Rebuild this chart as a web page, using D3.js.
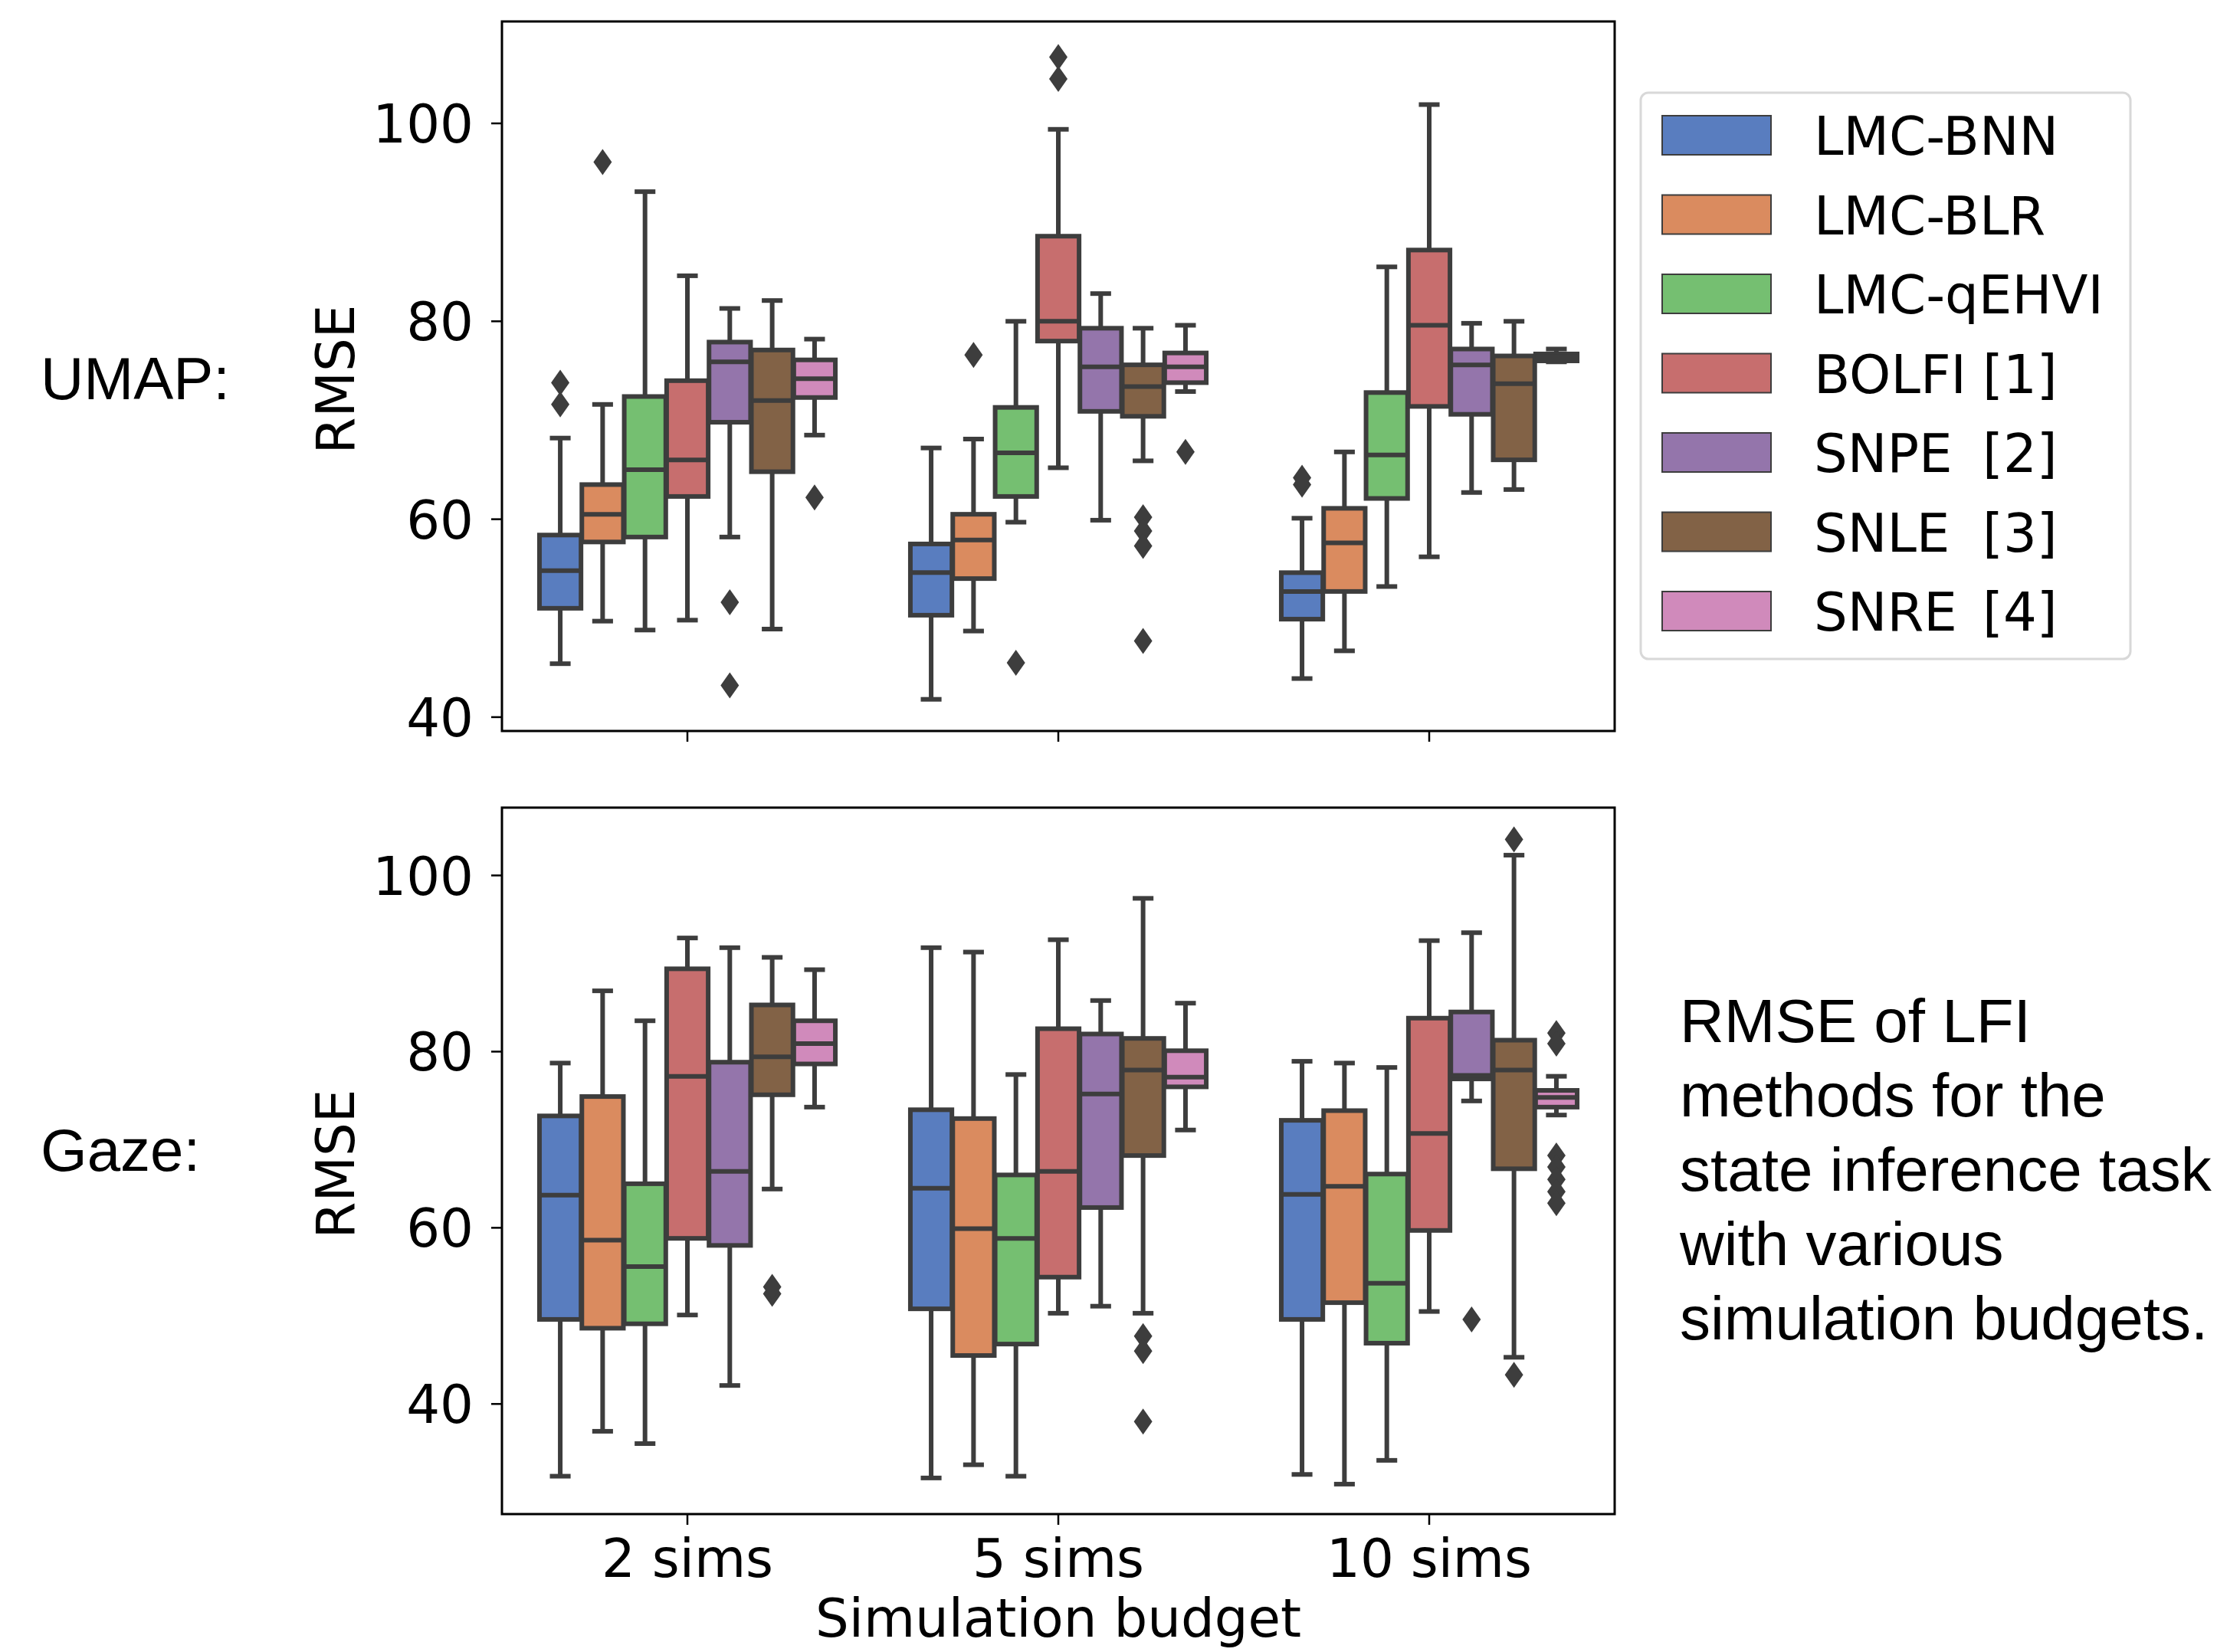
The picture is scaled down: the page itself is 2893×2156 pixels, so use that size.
<!DOCTYPE html>
<html>
<head>
<meta charset="utf-8">
<script src="https://cdn.jsdelivr.net/npm/d3@7"></script>
<style>
  html, body { margin: 0; padding: 0; background: #fff; }
</style>
</head>
<body>
<div id="chart"></div>
<script>
// Boxplots RMSE groupés (seaborn-like) : 2 panneaux UMAP / Gaze, 7 méthodes par budget.

const budgets = ["2 sims", "5 sims", "10 sims"]
const methods = ["LMC-BNN", "LMC-BLR", "LMC-qEHVI", "BOLFI [1]", "SNPE [2]", "SNLE [3]", "SNRE [4]"]
const yTicks = [40, 60, 80, 100]

// Stats par budget puis par méthode : [whisker bas, Q1, médiane, Q3, whisker haut]
const umapStats = [
  [[45.4, 51.0, 54.8, 58.4, 68.2], [49.7, 57.7, 60.5, 63.5, 71.6], [48.8, 58.2, 65.0, 72.4, 93.1],
   [49.8, 62.3, 66.0, 74.0, 84.6], [58.2, 69.8, 75.9, 77.9, 81.3], [48.9, 64.8, 72.0, 77.1, 82.1],
   [68.5, 72.3, 74.2, 76.1, 78.2]],
  [[41.8, 50.3, 54.6, 57.5, 67.2], [48.7, 54.0, 57.9, 60.5, 68.1], [59.7, 62.3, 66.7, 71.3, 80.0],
   [65.2, 78.0, 80.0, 88.6, 99.4], [59.9, 70.9, 75.4, 79.3, 82.8], [65.9, 70.4, 73.4, 75.6, 79.3],
   [72.9, 73.8, 75.4, 76.8, 79.6]],
  [[43.9, 49.9, 52.7, 54.6, 60.1], [46.7, 52.7, 57.6, 61.1, 66.8], [53.2, 62.1, 66.5, 72.8, 85.5],
   [56.2, 71.4, 79.6, 87.2, 101.9], [62.7, 70.6, 75.6, 77.2, 79.8], [63.0, 66.0, 73.7, 76.5, 80.0],
   [75.9, 76.0, 76.4, 76.7, 77.2]],
]
const umapOutliers = [
  [[71.6, 73.8], [96.1], [], [], [51.6, 43.2], [], [62.2]],
  [[], [76.6], [45.5], [104.5, 106.7], [], [60.2, 58.8, 57.3, 47.7], [66.8]],
  [[63.5, 64.2], [], [], [], [], [], []],
]

const gazeStats = [
  [[31.8, 49.6, 63.7, 72.7, 78.7], [36.9, 48.6, 58.6, 74.9, 86.9], [35.5, 49.1, 55.6, 65.0, 83.5],
   [50.1, 58.8, 77.2, 89.4, 92.9], [42.1, 58.0, 66.4, 78.8, 91.8], [64.4, 75.1, 79.4, 85.3, 90.7],
   [73.7, 78.6, 80.9, 83.5, 89.3]],
  [[31.6, 50.8, 64.5, 73.4, 91.8], [33.1, 45.5, 59.9, 72.4, 91.3], [31.8, 46.8, 58.8, 66.0, 77.4],
   [50.3, 54.4, 66.4, 82.6, 92.7], [51.1, 62.3, 75.2, 82.0, 85.8], [50.3, 68.2, 77.9, 81.5, 97.4],
   [71.1, 76.0, 77.1, 80.1, 85.5]],
  [[32.0, 49.6, 63.8, 72.2, 78.9], [30.9, 51.5, 64.7, 73.3, 78.7], [33.6, 46.9, 53.7, 66.1, 78.2],
   [50.5, 59.7, 70.7, 83.8, 92.6], [74.4, 76.9, 77.3, 84.5, 93.5], [45.3, 66.7, 77.9, 81.3, 102.3],
   [72.8, 73.7, 74.8, 75.6, 77.2]],
]
const gazeOutliers = [
  [[], [], [], [], [], [52.5, 53.3], []],
  [[], [], [], [], [], [47.7, 46.0, 38.0], []],
  [[], [], [], [], [49.6], [104.1, 43.3], [82.1, 80.9, 68.2, 66.9, 65.5, 64.1, 62.8]],
]

const captionLines = ["RMSE of LFI", "methods for the", "state inference task", "with various", "simulation budgets."]

// palette "muted" désaturée à 0.75 comme le fait seaborn pour les boîtes
const muted = ["#4878d0", "#ee854a", "#6acc64", "#d65f5f", "#956cb4", "#8c613c", "#dc7ec0"]
const colors = muted.map((c) => { const h = d3.hsl(c); h.s *= 0.75; return h.formatHex() })
const gray = "#3d3d3d"
const LW = 6

const W = 2893, H = 2156
const plotL = 655, plotR = 2107
const panels = [
  { name: "UMAP:", stats: umapStats, outliers: umapOutliers, top: 28, bottom: 954, domain: [38.6, 110.3], labelY: 521, xLabels: false },
  { name: "Gaze:", stats: gazeStats, outliers: gazeOutliers, top: 1054, bottom: 1976, domain: [27.5, 107.7], labelY: 1528, xLabels: true },
]

const svg = d3.select("#chart").append("svg")
  .attr("width", W).attr("height", H)
  .attr("viewBox", `0 0 ${W} ${H}`)
  .style("background", "#fff")

const x0 = d3.scaleBand().domain(budgets).range([plotL, plotR]).padding(0)
const hue = d3.scaleBand().domain(methods).range([0, x0.bandwidth() * 0.8])
const boxW = hue.bandwidth() * 0.98
const capW = boxW / 2
const axisFont = "DejaVu Sans, sans-serif"

// diamant fin (marker "d" de matplotlib)
const diamond = (cx, cy) => `M${cx},${cy - 17}L${cx + 12},${cy}L${cx},${cy + 17}L${cx - 12},${cy}Z`

panels.forEach((p) => {
  const y = d3.scaleLinear().domain(p.domain).range([p.bottom, p.top])
  const g = svg.append("g")

  // ticks Y + labels
  g.selectAll("line.ytick").data(yTicks).join("line")
    .attr("x1", plotL - 14).attr("x2", plotL)
    .attr("y1", (d) => y(d)).attr("y2", (d) => y(d))
    .attr("stroke", "#000").attr("stroke-width", 2.5)
  g.selectAll("text.ylab").data(yTicks).join("text")
    .attr("x", plotL - 37).attr("y", (d) => y(d) + 25)
    .attr("text-anchor", "end")
    .attr("font-family", axisFont).attr("font-size", 69).attr("fill", "#000")
    .text((d) => d)

  // ticks X
  g.selectAll("line.xtick").data(budgets).join("line")
    .attr("x1", (d) => x0(d) + x0.bandwidth() / 2).attr("x2", (d) => x0(d) + x0.bandwidth() / 2)
    .attr("y1", p.bottom).attr("y2", p.bottom + 14)
    .attr("stroke", "#000").attr("stroke-width", 2.5)
  if (p.xLabels) {
    g.selectAll("text.xlab").data(budgets).join("text")
      .attr("x", (d) => x0(d) + x0.bandwidth() / 2).attr("y", p.bottom + 82)
      .attr("text-anchor", "middle")
      .attr("font-family", axisFont).attr("font-size", 69).attr("fill", "#000")
      .text((d) => d)
  }

  // label axe Y
  const cy = (p.top + p.bottom) / 2
  g.append("text")
    .attr("transform", `translate(462,${cy + 4}) rotate(-90)`)
    .attr("text-anchor", "middle")
    .attr("font-family", axisFont).attr("font-size", 69).attr("fill", "#000")
    .text("RMSE")

  // nom du panneau
  g.append("text")
    .attr("x", 53).attr("y", p.labelY)
    .attr("font-family", "Liberation Sans, Arial, sans-serif").attr("font-size", 78).attr("fill", "#000")
    .text(p.name)

  // boîtes
  budgets.forEach((b, bi) => {
    methods.forEach((m, mi) => {
      const [wl, q1, med, q3, wh] = p.stats[bi][mi]
      const cx = x0(b) + x0.bandwidth() * 0.1 + hue(m) + hue.bandwidth() / 2
      const bx = g.append("g")
      bx.append("line").attr("x1", cx).attr("x2", cx).attr("y1", y(q3)).attr("y2", y(wh))
        .attr("stroke", gray).attr("stroke-width", LW)
      bx.append("line").attr("x1", cx).attr("x2", cx).attr("y1", y(q1)).attr("y2", y(wl))
        .attr("stroke", gray).attr("stroke-width", LW)
      ;[wl, wh].forEach((v) => {
        bx.append("line").attr("x1", cx - capW / 2).attr("x2", cx + capW / 2)
          .attr("y1", y(v)).attr("y2", y(v))
          .attr("stroke", gray).attr("stroke-width", LW)
      })
      bx.append("rect")
        .attr("x", cx - boxW / 2).attr("width", boxW)
        .attr("y", y(q3)).attr("height", y(q1) - y(q3))
        .attr("fill", colors[mi]).attr("stroke", gray).attr("stroke-width", LW)
      bx.append("line").attr("x1", cx - boxW / 2).attr("x2", cx + boxW / 2)
        .attr("y1", y(med)).attr("y2", y(med))
        .attr("stroke", gray).attr("stroke-width", LW)
      bx.selectAll("path.flier").data(p.outliers[bi][mi]).join("path")
        .attr("d", (v) => diamond(cx, y(v)))
        .attr("fill", gray)
    })
  })

  // cadre
  g.append("rect")
    .attr("x", plotL).attr("y", p.top)
    .attr("width", plotR - plotL).attr("height", p.bottom - p.top)
    .attr("fill", "none").attr("stroke", "#000").attr("stroke-width", 3)
})

// titre axe X (remonté un peu pour que le "g" ne soit pas coupé)
svg.append("text")
  .attr("x", (plotL + plotR) / 2).attr("y", 2136)
  .attr("text-anchor", "middle")
  .attr("font-family", axisFont).attr("font-size", 69).attr("fill", "#000")
  .text("Simulation budget")

// légende
const leg = svg.append("g")
leg.append("rect")
  .attr("x", 2141).attr("y", 121).attr("width", 639).attr("height", 739)
  .attr("rx", 10).attr("fill", "#fff").attr("stroke", "#d8d8d8").attr("stroke-width", 3)
methods.forEach((m, i) => {
  const yy = 151 + i * 103.5
  leg.append("rect")
    .attr("x", 2169).attr("y", yy).attr("width", 142).attr("height", 51)
    .attr("fill", colors[i]).attr("stroke", gray).attr("stroke-width", 2)
  const [name, ref] = m.split(" ")
  const t = leg.append("text")
    .attr("y", yy + 51)
    .attr("font-family", axisFont).attr("font-size", 69).attr("fill", "#000")
  t.append("tspan").attr("x", 2367).text(name)
  if (ref) t.append("tspan").attr("x", 2587).text(ref)
})

// légende texte à droite
svg.append("text")
  .attr("font-family", "Liberation Sans, Arial, sans-serif").attr("font-size", 80).attr("fill", "#000")
  .selectAll("tspan").data(captionLines).join("tspan")
  .attr("x", 2192).attr("y", (_, i) => 1360 + i * 97)
  .text((d) => d)
</script>
</body>
</html>
